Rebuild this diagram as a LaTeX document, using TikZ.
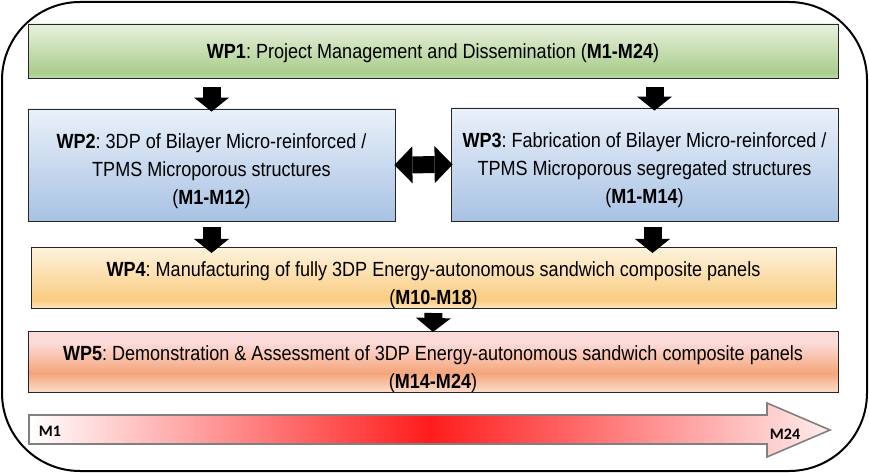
\documentclass[tikz,border=0pt]{standalone}
\usepackage{fontspec}
\setmainfont{Liberation Sans}[FakeStretch=0.88]
\newfontfamily\timefont{Carlito}
\usepackage{tikz}
\usetikzlibrary{arrows.meta}
\frenchspacing

\newcommand{\wpstrut}[1]{\rule{0pt}{#1}}

\definecolor{greentop}{RGB}{232,241,222}
\definecolor{greenmid}{RGB}{170,205,140}
\definecolor{greenlow}{RGB}{190,220,168}
\definecolor{bluetop}{RGB}{234,241,250}
\definecolor{bluelow}{RGB}{168,194,227}
\definecolor{yellowtop}{RGB}{254,243,222}
\definecolor{yellowmid}{RGB}{249,204,128}
\definecolor{yellowlow}{RGB}{253,233,196}
\definecolor{salmontop}{RGB}{252,220,218}
\definecolor{salmonmid}{RGB}{245,165,122}
\definecolor{salmonlow}{RGB}{252,222,206}
\definecolor{timered}{RGB}{255,28,28}
\definecolor{timeline}{RGB}{128,128,128}

\pgfdeclareverticalshading{greenshade}{100bp}{color(0bp)=(greenlow); color(25bp)=(greenlow); color(30bp)=(greenmid); color(75bp)=(greentop); color(100bp)=(greentop)}
\pgfdeclareverticalshading{yellowshade}{100bp}{color(0bp)=(yellowlow); color(25bp)=(yellowlow); color(32bp)=(yellowmid); color(75bp)=(yellowtop); color(100bp)=(yellowtop)}
\pgfdeclareverticalshading{salmonshade}{100bp}{color(0bp)=(salmonlow); color(25bp)=(salmonlow); color(41bp)=(salmonmid); color(66bp)=(salmontop); color(75bp)=(salmontop); color(100bp)=(salmontop)}

\begin{document}
\begin{tikzpicture}[x=1pt,y=-1pt,
	wpbox/.style={draw=black!85, line width=0.8pt, align=center, inner sep=0pt, font=\fontsize{20.5}{28}\selectfont},
	wpgreen/.style={wpbox, shading=greenshade},
	wpblue/.style={wpbox, top color=bluetop, bottom color=bluelow},
	wpyellow/.style={wpbox, shading=yellowshade},
	wpsalmon/.style={wpbox, shading=salmonshade},
	downarrow/.style={line width=18pt, -{Triangle[length=14pt,width=35pt,line width=0pt]}},
	botharrow/.style={line width=17pt, {Triangle[length=18pt,width=37pt,line width=0pt]}-{Triangle[length=18pt,width=37pt,line width=0pt]}},
	timelabel/.style={font=\timefont\bfseries\fontsize{16}{18}\selectfont, inner sep=0pt}
	]
	
	\useasboundingbox (0,0) rectangle (869,473);
	\draw[line width=2pt, rounded corners=78pt] (2,2) rectangle (867,471);
	
	\node[wpgreen, minimum width=810pt, minimum height=54pt] (wp1) at (433, 51)
		{\wpstrut{19.5pt}\textbf{WP1}: Project Management and Dissemination (\textbf{M1-M24})};
	\node[wpblue, minimum width=367pt, minimum height=112pt] (wp2) at (211.5, 165)
		{\wpstrut{27pt}\textbf{WP2}: 3DP of Bilayer Micro-reinforced /\\ TPMS Microporous structures\\ (\textbf{M1-M12})};
	\node[wpblue, minimum width=387pt, minimum height=113pt] (wp3) at (644.5, 164.5)
		{\wpstrut{27pt}\textbf{WP3}: Fabrication of Bilayer Micro-reinforced /\\ TPMS Microporous segregated structures\\ (\textbf{M1-M14})};
	\node[wpyellow, minimum width=805pt, minimum height=60pt] (wp4) at (433.5, 278)
		{\wpstrut{29pt}\textbf{WP4}: Manufacturing of fully 3DP Energy-autonomous sandwich composite panels\\ (\textbf{M10-M18})};
	\node[wpsalmon, minimum width=810pt, minimum height=50pt] (wp5) at (433, 362)
		{\wpstrut{29pt}\textbf{WP5}: Demonstration \& Assessment of 3DP Energy-autonomous sandwich composite panels\\ (\textbf{M14-M24})};
	
	\draw[downarrow, shorten <=9pt, shorten >=-3pt] (wp1.south -| wp2.north) -- (wp2.north);
	\draw[downarrow, shorten <=9pt, shorten >=-3pt] ([xshift=10pt]wp1.south -| wp3.north) -- ([xshift=10pt]wp3.north);
	\draw[botharrow, shorten <=-1pt, shorten >=-2pt] (wp2.east) -- (wp3.west);
	\draw[downarrow, shorten <=6pt, shorten >=-6pt] (wp2.south) -- (wp2.south |- wp4.north);
	\draw[downarrow, shorten <=6pt, shorten >=-6pt] ([xshift=8pt]wp3.south) -- ([xshift=8pt]wp3.south |- wp4.north);
	\draw[downarrow, shorten <=4pt, shorten >=-1pt] (wp4.south) -- (wp5.north);
	
	\shadedraw[draw=timeline, line width=1.6pt, left color=white, right color=timered!8!white, middle color=timered]
		(29,415) -- (767,415) -- (767,403) -- (830,430) -- (767,457) -- (767,444) -- (29,444) -- cycle;
	\node[timelabel] (mstart) at (50, 431) {M1};
	\node[timelabel] (mend) at (785, 434) {M24};
	
\end{tikzpicture}
\end{document}
